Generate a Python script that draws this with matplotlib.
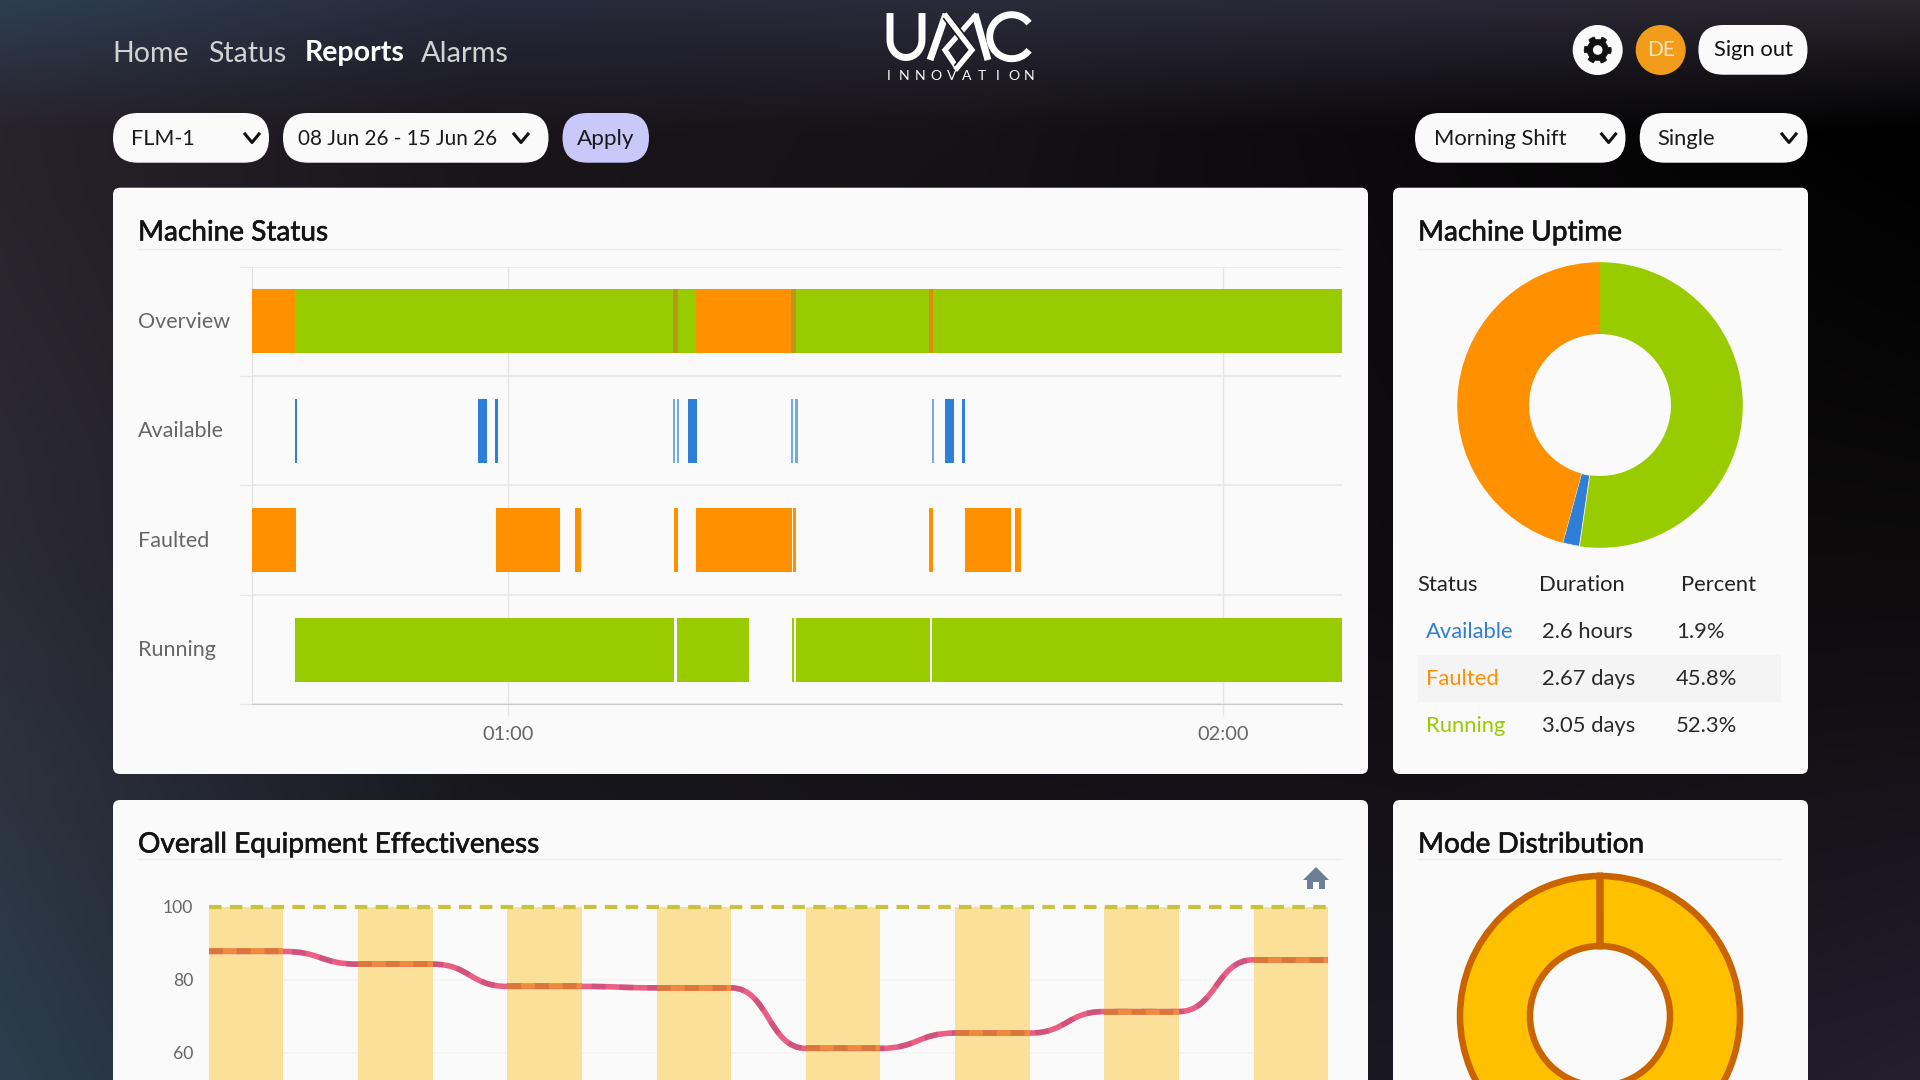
import numpy as np
import matplotlib
matplotlib.use("Agg")
import matplotlib.pyplot as plt
import matplotlib.patheffects as pe
from matplotlib.patches import FancyBboxPatch, Rectangle, Circle, Polygon, PathPatch
from matplotlib.path import Path
from matplotlib.transforms import ScaledTranslation

plt.rcParams['font.family'] = ['Lato', 'DejaVu Sans']

W, H = 1920, 1080
GREEN = '#99cc00'
ORANGE = '#ff9000'
BLUE = '#2f7ed8'
PALE_BLUE = '#74a9e4'
BROWN = '#b79a1c'

# machine status, times are minutes after midnight
status_rows = ['Overview', 'Available', 'Faulted', 'Running']
time_ticks = [60, 120]
time_labels = ['01:00', '02:00']
time_start = 38.52
time_end = 129.93

overview_start = [38.52, 42.1, 73.8, 74.2, 75.7, 83.75, 84.1, 95.3, 95.6]
overview_end = [42.1, 73.8, 74.2, 75.7, 83.75, 84.1, 95.3, 95.6, 129.93]
overview_colors = [ORANGE, GREEN, BROWN, GREEN, ORANGE, BROWN, GREEN, '#e08a10', GREEN]

available_start = [42.08, 57.47, 58.84, 73.8, 74.13, 75.06, 83.68, 84.05, 95.51, 96.64, 98.02]
available_end = [42.25, 58.2, 59.1, 73.97, 74.29, 75.8, 83.87, 84.27, 95.73, 97.4, 98.32]
available_colors = [BLUE, BLUE, BLUE, PALE_BLUE, PALE_BLUE, BLUE, PALE_BLUE, PALE_BLUE, PALE_BLUE, BLUE, BLUE]

faulted_start = [38.52, 59.0, 65.62, 73.9, 75.7, 83.87, 95.29, 98.35, 102.49]
faulted_end = [42.18, 64.3, 66.07, 74.2, 83.8, 84.12, 95.62, 102.2, 103.04]

running_start = [42.11, 74.16, 83.76, 84.12, 95.58]
running_end = [73.9, 80.22, 83.94, 95.36, 129.93]

# uptime table and donut
uptime_status = ['Available', 'Faulted', 'Running']
uptime_duration = ['2.6 hours', '2.67 days', '3.05 days']
uptime_percent = [1.9, 45.8, 52.3]
uptime_colors = [BLUE, ORANGE, GREEN]
donut_order = [2, 0, 1]

# OEE chart
oee_values = [87.9, 84.4, 78.3, 77.9, 61.3, 65.5, 71.4, 85.6]
oee_bars = [100, 100, 100, 100, 100, 100, 100, 100]
oee_target = 100
oee_ticks = [60, 80, 100]

mode_values = [99.99, 0.01]


def axes_px(x0, y0, x1, y1):
    return fig.add_axes([x0 / W, 1 - y1 / H, (x1 - x0) / W, (y1 - y0) / H], facecolor='none')


def fs(px):
    return px * 0.72


fig = plt.figure(figsize=(19.2, 10.8), dpi=100)

# page, drawn in pixels
page = fig.add_axes([0, 0, 1, 1], zorder=0)
page.set_xlim(0, W)
page.set_ylim(H, 0)
page.axis('off')

bg = np.array([
    [[45, 62, 82], [38, 42, 58], [42, 42, 58], [42, 40, 54], [42, 38, 46]],
    [[40, 34, 42], [26, 21, 27], [22, 18, 22], [10, 8, 10], [0, 0, 0]],
    [[44, 44, 54], [22, 20, 26], [18, 16, 20], [14, 12, 14], [14, 12, 13]],
    [[44, 62, 78], [28, 28, 36], [24, 22, 30], [26, 24, 34], [36, 30, 46]],
], dtype=float) / 255
# upsample the colour grid so the page looks like a smooth gradient
grid_y = np.linspace(0, 1, 216)
grid_x = np.linspace(0, 1, 384)
smooth = np.zeros((216, 384, 3))
pos_y = np.array([0, 0.12, 0.55, 1.0])
pos_x = np.linspace(0, 1, 5)
for c in range(3):
    rows = np.array([np.interp(grid_x, pos_x, bg[i, :, c]) for i in range(4)])
    for col in range(384):
        smooth[:, col, c] = np.interp(grid_y, pos_y, rows[:, col])
page.imshow(smooth, extent=(0, W, H, 0), aspect='auto', interpolation='bilinear', zorder=0)
page.set_xlim(0, W)
page.set_ylim(H, 0)


def pill(x0, y0, x1, y1, color, radius=None):
    r = (y1 - y0) / 2 if radius is None else radius
    page.add_patch(FancyBboxPatch((x0 + r, y0 + r), x1 - x0 - 2 * r, y1 - y0 - 2 * r,
                                  boxstyle='round,pad=%f,rounding_size=%f' % (r, r),
                                  fc=color, ec='none', zorder=1))


def label(x, y, s, size, color='#1a1a1a', weight='normal', ha='left', **kw):
    return page.text(x, y + 1.5, s, fontsize=fs(size), color=color, fontweight=weight, ha=ha, va='center', zorder=3, **kw)


def title(x, y, s):
    t = label(x, y, s, 28, '#141414')
    t.set_path_effects([pe.withStroke(linewidth=0.45, foreground='#141414')])


def chevron(x, y):
    page.plot([x - 7, x, x + 7], [y - 4, y + 4.5, y - 4], color='#111111', lw=2.2, zorder=3)


# nav
label(112, 52, 'Home', 28.5, '#d2d2d2')
label(208.5, 52, 'Status', 28.5, '#d2d2d2')
label(305, 52, 'Reports', 28.5, 'white', 'bold')
label(421, 52, 'Alarms', 29, '#d2d2d2')

# logo
logo_color = 'white'
u = [(890, 13), (890, 38)] + [(906 + 16 * np.cos(t), 40 + 17.5 * np.sin(t)) for t in np.linspace(np.pi, 0, 24)] + [(922, 13)]
page.plot(*zip(*u), color=logo_color, lw=5, solid_capstyle='butt', zorder=3)
page.plot([930, 946], [60, 14], color=logo_color, lw=5, solid_capstyle='butt', zorder=3)
page.plot([975, 988], [14, 60], color=logo_color, lw=5, solid_capstyle='butt', zorder=3)
page.plot([975, 945, 957], [16, 50, 68], color=logo_color, lw=3.8, solid_joinstyle='miter', zorder=3)
page.plot([946, 972, 957], [16, 50, 68], color='#201c24', lw=6.2, solid_joinstyle='miter', solid_capstyle='butt', zorder=3)
page.plot([946, 972, 957], [16, 50, 68], color=logo_color, lw=3.8, solid_joinstyle='miter', zorder=3)
arc_t = np.linspace(np.radians(38), np.radians(322), 60)
page.plot(1011.7 + 22 * np.cos(arc_t), 36.7 - 22 * np.sin(arc_t), color=logo_color, lw=5, solid_capstyle='butt', zorder=3)
for cx, letter in zip(np.linspace(889, 1029, 10), 'INNOVATION'):
    label(cx, 75, letter, 14, 'white', ha='center')

# top right buttons
page.add_patch(Circle((1597.7, 50), 25, fc='#fafafa', ec='none', zorder=1))
page.add_patch(Circle((1660.7, 50), 25, fc='#f39c1a', ec='none', zorder=1))
gear_t = np.linspace(0, 2 * np.pi, 97)[:-1]
gear_r = 13.5 - 3 * (np.cos(6 * gear_t) < 0)
page.add_patch(Polygon(np.column_stack([1597.7 + gear_r * np.cos(gear_t), 50 + gear_r * np.sin(gear_t)]),
                       fc='#111111', ec='#111111', lw=0.5, zorder=2))
page.add_patch(Circle((1597.7, 50), 4.8, fc='#fafafa', ec='none', zorder=3))
label(1660.7, 49, 'DE', 21, '#fde7c0', ha='center')
pill(1698.4, 25, 1807.5, 74.7, '#fafafa')
label(1714, 49, 'Sign out', 22, '#111111')

# filter row
pill(113, 113, 269, 162.7, '#fafafa')
pill(283, 113, 548.5, 162.7, '#fafafa')
pill(562.5, 113, 649, 162.7, '#c9c8fb')
pill(1415, 113, 1625.5, 162.7, '#fafafa')
pill(1639.7, 113, 1807.5, 162.7, '#fafafa')
label(131, 137.5, 'FLM-1', 21.5)
label(298.5, 137.5, '08 Jun 26 - 15 Jun 26', 20.6)
label(577, 137.5, 'Apply', 22.5)
label(1434, 137.5, 'Morning Shift', 22)
label(1657, 137.5, 'Single', 22)
for cx in [252, 521, 1608.6, 1789]:
    chevron(cx, 138)

# panels
for x0, y0, x1, y1 in [(113, 187.7, 1368, 774), (1393, 187.7, 1808, 774),
                       (113, 800, 1368, 1110), (1393, 800, 1808, 1110)]:
    pill(x0, y0, x1, y1, '#fafafa', radius=7)

title(138, 231, 'Machine Status')
title(1418, 231, 'Machine Uptime')
title(138, 843, 'Overall Equipment Effectiveness')
title(1418, 843, 'Mode Distribution')
for x0, x1, y in [(138, 1342, 248.5), (1418, 1781, 248.5), (138, 1342, 859), (1418, 1781, 859)]:
    page.plot([x0, x1], [y, y], color='#ececec', lw=1, zorder=2)

# uptime table
label(1417.5, 583.5, 'Status', 22, '#222222')
label(1539, 583.5, 'Duration', 22, '#222222')
label(1681, 583.5, 'Percent', 22, '#222222')
page.add_patch(Rectangle((1418, 655), 363, 47, fc='#f4f4f4', ec='none', zorder=2))
for i, y in enumerate([630.5, 677.5, 724.5]):
    label(1426, y, uptime_status[i], 22, uptime_colors[i])
    label(1542.3, y, uptime_duration[i], 22, '#2a2a2a')
    label(1676, y, '%.1f%%' % uptime_percent[i], 22, '#2a2a2a')

# home icon on the OEE chart
page.add_patch(Polygon([(1303, 880), (1316, 867), (1329, 880)], fc='#6b8096', ec='none', zorder=3))
page.add_patch(Polygon([(1307, 879), (1325, 879), (1325, 889), (1319, 889), (1319, 882), (1313, 882), (1313, 889), (1307, 889)],
                       fc='#6b8096', ec='none', zorder=3))

# gantt
gantt = axes_px(252.4, 266.7, 1341.8, 704.3)
gantt.set_zorder(2)
row_pos = list(range(len(status_rows)))
gantt.barh(0, np.subtract(overview_end, overview_start), left=overview_start, height=0.585, color=overview_colors, zorder=3)
gantt.barh(1, np.subtract(available_end, available_start), left=available_start, height=0.585, color=available_colors, zorder=3)
gantt.barh(2, np.subtract(faulted_end, faulted_start), left=faulted_start, height=0.585, color=ORANGE, zorder=3)
gantt.barh(3, np.subtract(running_end, running_start), left=running_start, height=0.585, color=GREEN, zorder=3)
gantt.set_xlim(time_start, time_end)
gantt.set_ylim(3.5, -0.5)
gantt.set_xticks(time_ticks, time_labels, fontsize=fs(20), color='#666666')
gantt.set_yticks(row_pos, status_rows, fontsize=fs(21.5), color='#666666', ha='left')
gantt.set_yticks([-0.5, 0.5, 1.5, 2.5, 3.5], minor=True)
gantt.tick_params(axis='y', which='major', length=0, pad=fs(252.4 - 138.2))
gantt.tick_params(axis='y', which='minor', length=fs(12), color='#e6e6e6', width=1)
gantt.tick_params(axis='x', length=fs(12), color='#e6e6e6', width=1, pad=fs(9.5))
gantt.grid(axis='x', color='#e6e6e6', lw=1)
gantt.grid(axis='y', which='minor', color='#e6e6e6', lw=1.2)
gantt.set_axisbelow(True)
for side in ['top', 'right']:
    gantt.spines[side].set_visible(False)
gantt.spines['left'].set_color('#e0e0e0')
gantt.spines['bottom'].set_color('#cccccc')
up = ScaledTranslation(0, 1.6 / 100, fig.dpi_scale_trans)
for tick_label in gantt.get_yticklabels():
    tick_label.set_transform(tick_label.get_transform() + up)

# uptime donut, clockwise from the top
donut = axes_px(1450, 255, 1750, 555)
donut.set_zorder(2)
wedges, _ = donut.pie([uptime_percent[i] for i in donut_order], colors=[uptime_colors[i] for i in donut_order],
                      startangle=90, counterclock=False, radius=1, wedgeprops=dict(width=0.503))
# the pale border only shows between the blue and orange slices
wedges[1].set(edgecolor='#fafafa', linewidth=0.6)
donut.set_xlim(-150 / 142.8, 150 / 142.8)
donut.set_ylim(-150 / 142.8, 150 / 142.8)

# OEE
oee = axes_px(208.8, 907.3, 1328.2, 1271.8)
oee.set_zorder(2)
x = np.arange(len(oee_values))
oee.bar(x, oee_bars, width=0.5, color='#fbe099', zorder=2)
oee.plot([x[0] - 0.25, x[-1] + 0.25], [oee_target, oee_target], color='#c9c23f', lw=3, ls=(0, (3, 2)), clip_on=False, zorder=4)

verts = [(x[0] - 0.25, oee_values[0]), (x[0] + 0.25, oee_values[0])]
codes = [Path.MOVETO, Path.LINETO]
for i in range(len(x) - 1):
    mid = i + 0.5
    verts += [(mid, oee_values[i]), (mid, oee_values[i + 1]), (x[i + 1] - 0.25, oee_values[i + 1]), (x[i + 1] + 0.25, oee_values[i + 1])]
    codes += [Path.CURVE4, Path.CURVE4, Path.CURVE4, Path.LINETO]
oee.add_patch(PathPatch(Path(verts, codes), fc='none', ec='#ec5f85', lw=4, zorder=5))
oee.add_patch(PathPatch(Path(verts, codes), fc='none', ec='#b84a78', lw=4, ls=(0, (2.5, 2.5)), alpha=0.55, zorder=6))
for i in x:
    oee.plot([i - 0.25, i + 0.25], [oee_values[i], oee_values[i]], color='#ef8a3f', lw=4, solid_capstyle='butt', zorder=7)
    oee.plot([i - 0.25, i + 0.25], [oee_values[i], oee_values[i]], color='#d9763c', lw=4, ls=(0, (2.5, 2.5)), zorder=8)
oee.set_xlim(-0.25, 7.25)
oee.set_ylim(0, 100)
oee.set_xticks([])
oee.set_yticks(oee_ticks)
oee.tick_params(axis='y', length=0, labelsize=fs(17.5), labelcolor='#666666', pad=fs(15.5))
oee.grid(axis='y', color='#f3f3f3', lw=1.2)
oee.set_axisbelow(True)
for spine in oee.spines.values():
    spine.set_visible(False)
up_small = ScaledTranslation(0, 1 / 100, fig.dpi_scale_trans)
for tick_label in oee.get_yticklabels():
    tick_label.set_transform(tick_label.get_transform() + up_small)

# mode donut
mode = axes_px(1450, 866, 1750, 1166)
mode.set_zorder(2)
mode.pie(mode_values, colors=['#ffc000', '#ffc000'], startangle=90, counterclock=False, radius=1,
         wedgeprops=dict(width=0.5, edgecolor='#c96400', linewidth=4.7))
mode.set_xlim(-150 / 140, 150 / 140)
mode.set_ylim(-150 / 140, 150 / 140)

fig.savefig('out.png', dpi=100)
